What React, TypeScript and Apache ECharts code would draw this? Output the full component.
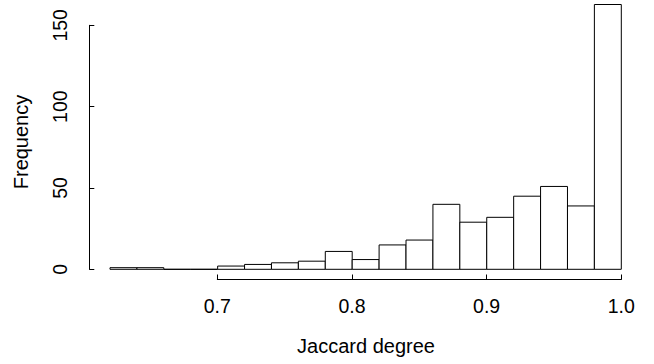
import React, { useEffect, useRef } from "react";
import * as echarts from "echarts";

const binStarts = [0.62, 0.64, 0.66, 0.68, 0.70, 0.72, 0.74, 0.76, 0.78, 0.80, 0.82, 0.84, 0.86, 0.88, 0.90, 0.92, 0.94, 0.96, 0.98];
const binEnds = [0.64, 0.66, 0.68, 0.70, 0.72, 0.74, 0.76, 0.78, 0.80, 0.82, 0.84, 0.86, 0.88, 0.90, 0.92, 0.94, 0.96, 0.98, 1.0];
const counts = [1, 1, 0, 0, 2, 3, 4, 5, 11, 6, 15, 18, 40, 29, 32, 45, 51, 39, 163];
const xTicks = [0.7, 0.8, 0.9, 1.0];
const yTicks = [0, 50, 100, 150];
const xTitle = "Jaccard degree";
const yTitle = "Frequency";

const FONT = "Liberation Sans, Arial, Helvetica, sans-serif";

export default function App() {
  const ref = useRef<HTMLDivElement>(null);
  useEffect(() => {
    if (!ref.current) return;
    const chart = echarts.init(ref.current, null, { renderer: "svg" });
    const data = counts.map((c, i) => [binStarts[i], binEnds[i], c]);
    chart.setOption({
      animation: false,
      backgroundColor: "#fff",
      grid: [
        { left: 110, right: 32.7, top: 4.5, bottom: 94.7 },
        { left: 217.3, right: 32.7, top: 4.5, bottom: 84.5 },
        { left: 89.3, right: 32.7, top: 25.3, bottom: 94.7 },
      ],
      xAxis: [
        { type: "value", gridIndex: 0, min: 0.62, max: 1.0, show: false },
        {
          type: "value", gridIndex: 1, min: xTicks[0], max: xTicks[xTicks.length - 1], interval: 0.1,
          axisLine: { show: true, lineStyle: { color: "#000", width: 1 } },
          axisTick: { show: true, inside: true, length: 5, lineStyle: { color: "#000" } },
          axisLabel: { show: true, margin: 16, color: "#000", fontSize: 19.5, fontFamily: FONT, formatter: (v: number) => v.toFixed(1) },
          splitLine: { show: false },
        },
        { type: "value", gridIndex: 2, show: false },
      ],
      yAxis: [
        { type: "value", gridIndex: 0, min: 0, max: 163, show: false },
        { type: "value", gridIndex: 1, show: false },
        {
          type: "value", gridIndex: 2, min: yTicks[0], max: yTicks[yTicks.length - 1], interval: 50,
          axisLine: { show: true, lineStyle: { color: "#000", width: 1 } },
          axisTick: { show: true, inside: true, length: 5, lineStyle: { color: "#000" } },
          axisLabel: { show: true, rotate: 90, margin: 19, color: "#000", fontSize: 19.5, fontFamily: FONT },
          splitLine: { show: false },
        },
      ],
      series: [
        {
          type: "custom",
          xAxisIndex: 0,
          yAxisIndex: 0,
          clip: false,
          data,
          renderItem: (params: any, api: any) => {
            const p0 = api.coord([api.value(0), api.value(2)]);
            const p1 = api.coord([api.value(1), 0]);
            return {
              type: "rect",
              shape: { x: p0[0], y: p0[1], width: p1[0] - p0[0], height: p1[1] - p0[1] },
              style: { fill: "#fff", stroke: "#000", lineWidth: 1 },
            };
          },
        },
      ],
      graphic: [
        {
          type: "text", x: 366, y: 346,
          style: { text: xTitle, fill: "#000", font: `20px ${FONT}`, align: "center", verticalAlign: "middle" },
        },
        {
          type: "text", x: 21, y: 142, rotation: Math.PI / 2,
          style: { text: yTitle, fill: "#000", font: `20px ${FONT}`, align: "center", verticalAlign: "middle" },
        },
      ],
    });
    return () => chart.dispose();
  }, []);
  return <div ref={ref} style={{ width: 654, height: 364, position: "absolute", left: 0, top: 0 }} />;
}
